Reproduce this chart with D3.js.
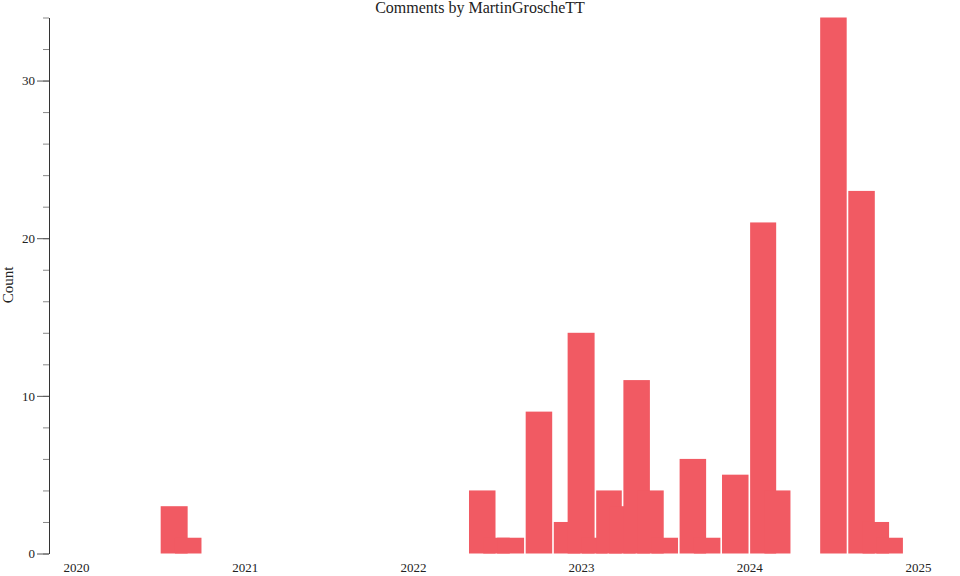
<!DOCTYPE html>
<html>
<head>
<meta charset="utf-8">
<script src="https://cdn.jsdelivr.net/npm/d3@7"></script>
<style>
  body { margin: 0; background: #fff; }
  svg { display: block; font-family: "Liberation Serif", "Times New Roman", serif; }
</style>
</head>
<body>
<div id="chart"></div>
<script>
// monthly comment counts, Jan..Dec for each year
var years = [2020, 2021, 2022, 2023, 2024];
var counts2020 = [0, 0, 0, 0, 0, 0, 3, 1, 0, 0, 0, 0];
var counts2021 = [0, 0, 0, 0, 0, 0, 0, 0, 0, 0, 0, 0];
var counts2022 = [0, 0, 0, 0, 4, 1, 1, 0, 9, 0, 2, 14];
var counts2023 = [1, 4, 3, 11, 4, 1, 0, 6, 1, 0, 5, 0];
var counts2024 = [21, 4, 0, 0, 0, 34, 0, 23, 2, 1, 0, 0];
var yearTicks = [2020, 2021, 2022, 2023, 2024, 2025];
var majorTicks = [0, 10, 20, 30];
var minorTicks = [0, 2, 4, 6, 8, 10, 12, 14, 16, 18, 20, 22, 24, 26, 28, 30, 32, 34];

var allCounts = [counts2020, counts2021, counts2022, counts2023, counts2024];
var data = [];
years.forEach(function(yr, j) {
    allCounts[j].forEach(function(c, m) {
        data.push({date: new Date(yr, m, 1), end: new Date(yr, m + 2, 1), count: c});
    });
});

var width = 960, height = 576;

var svg = d3.select("#chart").append("svg")
    .attr("width", width)
    .attr("height", height);

var x = d3.scaleTime()
    .domain([new Date(2020, 0, 1), new Date(2025, 0, 1)])
    .range([76, 918]);

var y = d3.scaleLinear()
    .domain([0, 34])
    .range([553.5, 17.5]);

// bars, each two months wide, drawn in date order so later ones overlap
svg.selectAll("rect.bar")
    .data(data)
    .enter().append("rect")
    .attr("class", "bar")
    .attr("x", function(d) { return x(d.date) + 0.8; })
    .attr("width", function(d) { return x(d.end) - x(d.date) - 1.6; })
    .attr("y", function(d) { return y(d.count); })
    .attr("height", function(d) { return y(0) - y(d.count); })
    .attr("fill", "#f15a63");

// y axis: minor ticks every 2, labelled major ticks every 10
var yMinor = svg.append("g")
    .attr("transform", "translate(49,0)")
    .call(d3.axisLeft(y).tickValues(minorTicks).tickSize(6).tickSizeOuter(0).tickFormat(""));
yMinor.select(".domain").attr("stroke", "#333");
yMinor.selectAll(".tick line").attr("stroke", "#888");

var yMajor = svg.append("g")
    .attr("transform", "translate(49,0)")
    .call(d3.axisLeft(y).tickValues(majorTicks).tickSize(12).tickSizeOuter(0).tickPadding(2));
yMajor.select(".domain").remove();
yMajor.selectAll(".tick line").attr("stroke", "#555");
yMajor.selectAll("text")
    .attr("font-family", "Liberation Serif, serif")
    .attr("font-size", 13)
    .attr("fill", "#222");

// x axis: labels only
var xAxis = svg.append("g")
    .attr("transform", "translate(0,553)")
    .call(d3.axisBottom(x)
        .tickValues(yearTicks.map(function(t) { return new Date(t, 0, 1); }))
        .tickFormat(d3.timeFormat("%Y"))
        .tickSize(0)
        .tickPadding(10));
xAxis.select(".domain").remove();
xAxis.selectAll("text")
    .attr("font-family", "Liberation Serif, serif")
    .attr("font-size", 13)
    .attr("fill", "#222");

svg.append("text")
    .attr("x", 480)
    .attr("y", 13)
    .attr("text-anchor", "middle")
    .attr("font-size", 16)
    .attr("fill", "#222")
    .text("Comments by MartinGroscheTT");

svg.append("text")
    .attr("transform", "translate(13,285) rotate(-90)")
    .attr("text-anchor", "middle")
    .attr("font-size", 15)
    .attr("fill", "#222")
    .text("Count");
</script>
</body>
</html>
